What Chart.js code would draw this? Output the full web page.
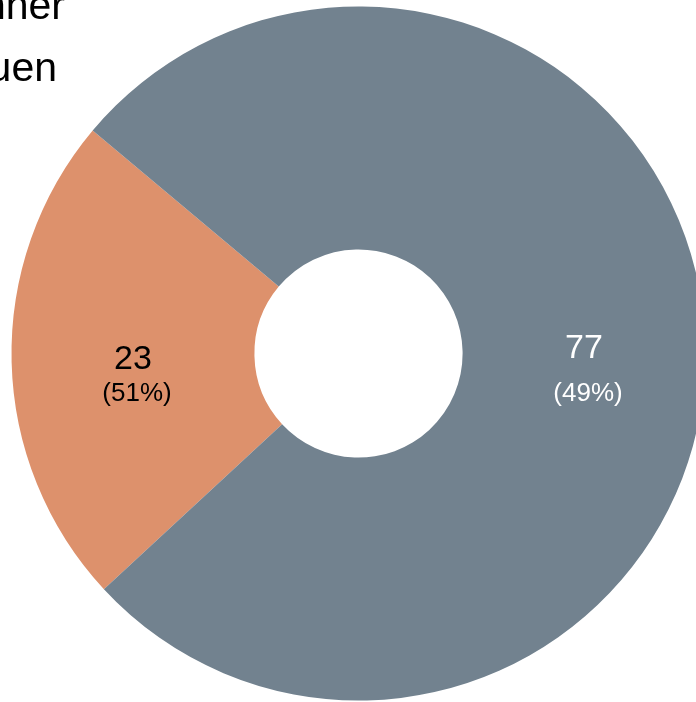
<!DOCTYPE html>
<html>
<head>
<meta charset="utf-8">
<script src="https://cdn.jsdelivr.net/npm/chart.js@4.4.1/dist/chart.umd.min.js"></script>
<style>
  html, body { margin: 0; padding: 0; background: #fff; overflow: hidden; }
  #wrap { position: relative; width: 696px; height: 702px; overflow: hidden; }
  #pie { position: absolute; left: 0; top: 0; }
</style>
</head>
<body>
<div id="wrap">
  <canvas id="pie" width="760" height="702"></canvas>
</div>
<script>
// data
const labels = ["Männer", "Frauen"];
const counts = [23, 77];
const shares = ["(51%)", "(49%)"];
const sliceColors = ["#DD916C", "#72828F"];
const labelColors = ["#000000", "#ffffff"];

const FONT = "'Liberation Sans', Arial, sans-serif";

// legend: the swatches sit outside the visible area, only the text ends show
const legendText = {
    id: "legendText",
    afterDraw(chart) {
        const ctx = chart.ctx;
        ctx.save();
        ctx.font = "41px " + FONT;
        ctx.fillStyle = "#000";
        ctx.textAlign = "right";
        ctx.textBaseline = "alphabetic";
        ctx.fillText(labels[0], 65, 19);
        ctx.fillText(labels[1], 57, 81);
        ctx.restore();
    },
};

// value inside each slice, share on a common line below the centre
const sliceLabels = {
    id: "sliceLabels",
    afterDatasetsDraw(chart) {
        const ctx = chart.ctx;
        const meta = chart.getDatasetMeta(0);
        ctx.save();
        ctx.textAlign = "center";
        ctx.textBaseline = "middle";
        meta.data.forEach((arc, i) => {
            const p = arc.getProps(["x", "y", "startAngle", "endAngle", "innerRadius", "outerRadius"], true);
            const mid = (p.startAngle + p.endAngle) / 2;
            const r = (p.innerRadius + p.outerRadius) / 2;
            const x = p.x + Math.cos(mid) * r;
            const y = p.y + Math.sin(mid) * r;
            ctx.fillStyle = labelColors[i];
            ctx.font = "34px " + FONT;
            ctx.fillText(String(counts[i]), x, y + 1);
            ctx.font = "26px " + FONT;
            ctx.fillText(shares[i], x + 4, p.y + 40);
        });
        ctx.restore();
    },
};

new Chart(document.getElementById("pie"), {
    type: "doughnut",
    data: {
        labels: labels,
        datasets: [{
            data: counts,
            backgroundColor: sliceColors,
            borderWidth: 0,
        }],
    },
    options: {
        responsive: false,
        animation: false,
        cutout: "30%",
        rotation: 227.2,
        layout: { padding: { left: 11.5, right: 54.5, top: 6.5, bottom: 1.5 } },
        plugins: {
            legend: { display: false },
            tooltip: { enabled: false },
        },
    },
    plugins: [sliceLabels, legendText],
});
</script>
</body>
</html>
